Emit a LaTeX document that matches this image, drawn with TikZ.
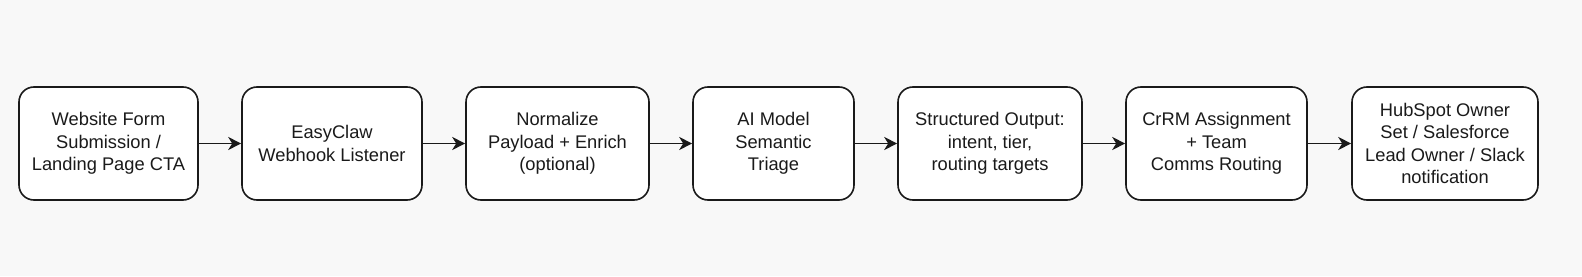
\documentclass[tikz,border=0pt]{standalone}
\usepackage{fontspec}
\setmainfont{Liberation Sans}
\usetikzlibrary{arrows.meta}
\definecolor{bg}{HTML}{F8F8F8}
\definecolor{ink}{HTML}{1A1A1A}
\tikzset{
  x=1pt,y=1pt,
  stage/.style={draw=ink,line width=1.6pt,fill=white,rounded corners=15pt,
    minimum height=113pt,align=center,inner sep=0pt,
    font=\fontsize{18.3}{22.5}\selectfont,text=ink},
  flow/.style={draw=ink,line width=1.6pt,-{Stealth[length=13pt,width=13pt,inset=4pt]}}
}
\begin{document}
\begin{tikzpicture}
\fill[bg] (0,0) rectangle (1582,276);
\useasboundingbox (0,0) rectangle (1582,276);
\node[stage,minimum width=179pt] (a) at (108.5,132.5) {Website Form\\Submission /\\Landing Page CTA};
\node[stage,minimum width=180pt] (b) at (332,132.5) {EasyClaw\\Webhook Listener};
\node[stage,minimum width=183pt] (c) at (557.5,132.5) {Normalize\\Payload + Enrich\\(optional)};
\node[stage,minimum width=161pt] (d) at (773.5,132.5) {AI Model\\Semantic\\Triage};
\node[stage,minimum width=184pt] (e) at (990,132.5) {Structured Output:\\intent, tier,\\routing targets};
\node[stage,minimum width=181pt] (f) at (1216.5,132.5) {CrRM Assignment\\+ Team\\Comms Routing};
\node[stage,minimum width=186pt] (g) at (1445,132.5) {HubSpot Owner\\Set / Salesforce\\Lead Owner / Slack\\notification};
\draw[flow] (a) -- (b);
\draw[flow] (b) -- (c);
\draw[flow] (c) -- (d);
\draw[flow] (d) -- (e);
\draw[flow] (e) -- (f);
\draw[flow] (f) -- (g);
\end{tikzpicture}
\end{document}
